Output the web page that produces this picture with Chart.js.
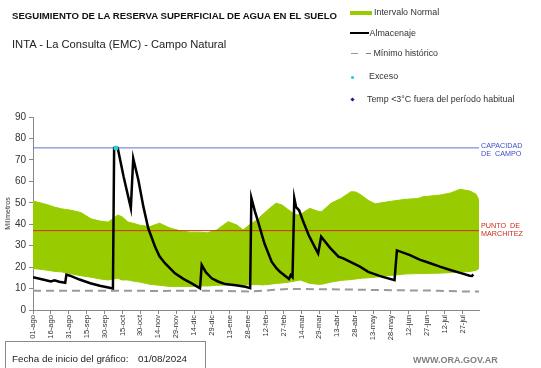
<!DOCTYPE html>
<html>
<head>
<meta charset="utf-8">
<script src="https://cdn.jsdelivr.net/npm/chart.js@4.4.0/dist/chart.umd.min.js"></script>
<style>
  body { margin: 0; width: 541px; height: 368px; position: relative; background: #fff; overflow: hidden;
         font-family: Arial, "Liberation Sans", sans-serif; }
  #chart { position: absolute; left: 0; top: 0; }
  .txt { position: absolute; white-space: pre; line-height: 1; }
  .leg { font-size: 8.9px; color: #333; }
  .mark { position: absolute; }
</style>
</head>
<body>
<canvas id="chart" width="541" height="368"></canvas>

<div class="txt" style="left:12px; top:10.5px; font-size:9.6px; font-weight:bold; color:#111;">SEGUIMIENTO DE LA RESERVA SUPERFICIAL DE AGUA EN EL SUELO</div>
<div class="txt" style="left:12px; top:38.5px; font-size:11.2px; color:#222;">INTA - La Consulta (EMC) - Campo Natural</div>

<!-- legend -->
<div class="mark" style="left:350px; top:11px; width:22px; height:3.5px; background:#99cc00;"></div>
<div class="txt leg" style="left:374px; top:8px;">Intervalo Normal</div>
<div class="mark" style="left:350px; top:32.3px; width:19px; height:2px; background:#000;"></div>
<div class="txt leg" style="left:369.5px; top:29px;">Almacenaje</div>
<div class="mark" style="left:351px; top:52.8px; width:7px; height:1.5px; background:#999;"></div>
<div class="txt leg" style="left:366px; top:49px;">– Mínimo histórico</div>
<div class="mark" style="left:351px; top:76.2px; width:2.5px; height:2.5px; border-radius:50%; background:#33ccdd;"></div>
<div class="txt leg" style="left:369px; top:72.3px;">Exceso</div>
<div class="mark" style="left:350.5px; top:97.5px; width:3px; height:3px; background:#1a1a99; transform:rotate(45deg);"></div>
<div class="txt leg" style="left:367px; top:94.6px;">Temp &lt;3°C fuera del período habitual</div>

<!-- labels at the reference lines -->
<div class="txt" style="left:481px; top:141.5px; font-size:7.2px; color:#3a4fc4;">CAPACIDAD</div>
<div class="txt" style="left:481px; top:149.8px; font-size:7.2px; color:#3a4fc4;">DE  CAMPO</div>
<div class="txt" style="left:481px; top:221.5px; font-size:7.2px; color:#cc2a1a;">PUNTO  DE</div>
<div class="txt" style="left:481px; top:229.8px; font-size:7.2px; color:#cc2a1a;">MARCHITEZ</div>

<!-- bottom -->
<div class="mark" style="left:5px; top:341px; width:199px; height:30px; border:1px solid #8a8a8a;"></div>
<div class="txt" style="left:12px; top:353.5px; font-size:9.8px; color:#222;">Fecha de inicio del gráfico:</div>
<div class="txt" style="left:138px; top:353.5px; font-size:9.8px; color:#222;">01/08/2024</div>
<div class="txt" style="left:413px; top:355.6px; font-size:9px; font-weight:bold; color:#808080;">WWW.ORA.GOV.AR</div>

<script>
// days counted from 01/08/2024
const xLabels = ['01-ago', '16-ago', '31-ago', '15-sep', '30-sep', '15-oct', '30-oct', '14-nov', '29-nov',
  '14-dic', '29-dic', '13-ene', '28-ene', '12-feb', '27-feb', '14-mar', '29-mar', '13-abr', '28-abr',
  '13-may', '28-may', '12-jun', '27-jun', '12-jul', '27-jul'];
const tickDays = [0, 15, 30, 45, 60, 75, 90, 105, 120, 135, 150, 165, 180, 195, 210, 225, 240, 255, 270,
  285, 300, 315, 330, 345, 360];
const lastDay = 373.8;

// intervalo normal (band)
const bandDays = [0, 6, 12.6, 18, 23.5, 31, 40, 48.6, 56, 63, 67, 71, 74.6, 79.6, 83.8, 89.7, 98, 106, 114.8, 123,
  131.6, 140, 146, 154, 163.5, 171, 176, 182, 187.8, 192, 198.7, 203.7, 208.7, 214.6, 219.6, 223.8, 228, 232, 239, 242,
  249.8, 258, 266.6, 270.7, 275, 280.8, 286.7, 297.6, 311.8, 322.7, 326.9, 341.2, 349.5, 357.9, 366.3, 371.3, 373.8];
const bandUpper = [50.8, 50, 49, 48, 47.2, 46.6, 45.5, 42.5, 41.5, 41, 42.5, 44.3, 43.5, 41, 40.5, 39.5, 38.9, 40.5, 38.2, 37,
  36.3, 36.3, 36, 37.3, 41.2, 39.6, 37.3, 40, 42, 44.3, 47.6, 49.8, 49, 46.5, 44.5, 44.3, 46, 47.4, 46, 45.9,
  49.8, 52, 55.2, 55, 53.6, 51.2, 49.5, 50.5, 51.6, 52, 52.8, 53.6, 54.5, 56.3, 55.5, 54, 51.3];
const bandLower = [19.4, 19, 18.5, 18, 17.8, 17, 16, 15.3, 14.5, 14, 14.5, 14.8, 14, 14, 13.5, 13, 12, 11.5, 11, 11,
  11, 11.2, 11.2, 11.5, 11.7, 11.7, 11.7, 11.8, 11.9, 11.7, 12, 12.4, 12.6, 13, 13.5, 14, 13.2, 12.4, 12, 12,
  13, 13.8, 14.2, 14.5, 14.8, 15, 15.3, 16, 16.8, 17, 17, 17.2, 17.4, 17.6, 18, 18.5, 19.4];

// almacenaje
const storeDays = [0, 10, 15, 18, 22, 27, 28, 31, 39, 48, 56, 67, 68, 71, 76, 82, 84, 88.3, 92.5, 96.6,
  102.3, 106, 110.6, 119, 126, 133, 140, 141.4, 145, 149.8, 155, 161, 170, 178, 182, 183, 186, 189, 194, 200,
  204, 207, 213, 214.5, 216, 217.5, 219, 220.5, 223, 226, 231, 236.5, 239, 241.5, 249, 256, 260, 266, 274, 281,
  291, 303, 305, 316, 324, 333, 341, 349, 358, 366, 368, 369];
const storeVals = [15.3, 14, 13.3, 13.8, 13.2, 12.7, 16.5, 16, 14.2, 12.5, 11.3, 10, 75.6, 75.6, 62, 47.5, 70.7, 60.6, 48.2, 38.1,
  29.5, 25, 21.8, 17.1, 14.5, 12.4, 10.1, 21, 17.5, 14.8, 13.3, 12.1, 11.5, 10.8, 10.2, 52.3, 46, 40.5, 31, 22.5,
  19.5, 17.8, 15.2, 14.5, 16.3, 15.3, 52.1, 48, 46.5, 42, 35, 29, 26.4, 34.2, 29, 24.9, 24.1, 22.4, 20.2, 17.8,
  15.8, 13.9, 27.8, 25.6, 23.5, 21.8, 20.2, 18.8, 17.3, 16, 15.9, 16.6];

// minimo historico
const minDays = [0, 67, 100, 158, 182, 200, 215, 260, 290, 340, 360, 373.8];
const minVals = [9, 9, 8.9, 9, 8.6, 9.3, 9.8, 9.6, 9.3, 9, 8.6, 8.6];

// exceso
const excessDays = [69.5];
const excessVals = [75.6];

const capacidadCampo = 75.6;
const puntoMarchitez = 37;

const toPoints = (xs, ys) => xs.map((x, i) => ({ x: x, y: ys[i] }));
const flat = v => [{ x: 0, y: v }, { x: lastDay, y: v }];

Chart.defaults.font.family = 'Arial, "Liberation Sans", sans-serif';

new Chart(document.getElementById('chart'), {
  type: 'line',
  data: {
    datasets: [
      { data: toPoints(storeDays, storeVals), borderColor: '#000', borderWidth: 2.5, pointRadius: 0, order: 1 },
      { data: toPoints(excessDays, excessVals), showLine: false, pointRadius: 2.5, pointBorderWidth: 0,
        pointBackgroundColor: '#33ccdd', order: 0 },
      { data: flat(capacidadCampo), borderColor: '#5577cc', borderWidth: 1, pointRadius: 0, order: 2 },
      { data: flat(puntoMarchitez), borderColor: '#cc3318', borderWidth: 1, pointRadius: 0, order: 2 },
      { data: toPoints(minDays, minVals), borderColor: '#9a9a9a', borderWidth: 2, borderDash: [8, 5],
        pointRadius: 0, order: 3 },
      { data: toPoints(bandDays, bandUpper), borderColor: '#99cc00', borderWidth: 1, backgroundColor: '#99cc00',
        fill: '+1', pointRadius: 0, order: 4 },
      { data: toPoints(bandDays, bandLower), borderColor: '#99cc00', borderWidth: 1, fill: false,
        pointRadius: 0, order: 5 }
    ]
  },
  options: {
    responsive: false,
    animation: false,
    layout: { padding: { top: 117, right: 62, bottom: 0, left: 0 } },
    plugins: { legend: { display: false }, tooltip: { enabled: false } },
    scales: {
      x: {
        type: 'linear',
        min: 0,
        max: lastDay,
        afterBuildTicks: scale => { scale.ticks = tickDays.map(v => ({ value: v })); },
        afterFit: scale => { scale.height = 58; },
        grid: { drawOnChartArea: false, tickLength: 4, color: '#888' },
        border: { color: '#888' },
        ticks: {
          autoSkip: false, minRotation: 90, maxRotation: 90, padding: 1,
          font: { size: 7.6 }, color: '#333',
          callback: (v, i) => xLabels[i]
        }
      },
      y: {
        min: 0,
        max: 90,
        afterFit: scale => { scale.width = 33; },
        grid: { drawOnChartArea: false, tickLength: 4, color: '#888' },
        border: { color: '#888' },
        ticks: { stepSize: 10, font: { size: 10 }, color: '#333', padding: 3 },
        title: { display: true, text: 'Milímetros', font: { size: 7 }, color: '#333', padding: { top: 4, bottom: 0 } }
      }
    }
  }
});
</script>
</body>
</html>
